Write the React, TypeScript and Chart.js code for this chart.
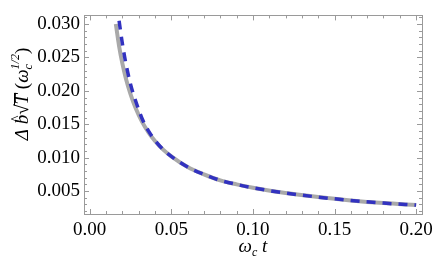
import React, { useEffect, useRef } from "react";
import { Chart, registerables } from "chart.js";

Chart.register(...registerables);

const tGray = [0.016, 0.018, 0.02, 0.022, 0.025, 0.028, 0.032, 0.036, 0.04, 0.045, 0.05, 0.06, 0.07, 0.08, 0.09, 0.1, 0.12, 0.14, 0.16, 0.18, 0.2];
const grayValues = [0.03, 0.0267, 0.0241, 0.022, 0.0195, 0.0175, 0.0154, 0.0138, 0.0125, 0.0112, 0.0102, 0.0086, 0.0075, 0.0066, 0.006, 0.0055, 0.0047, 0.0041, 0.0036, 0.0032, 0.0029];
const tBlue = [0.018, 0.02, 0.022, 0.025, 0.028, 0.032, 0.036, 0.04, 0.045, 0.05, 0.06, 0.07, 0.08, 0.09, 0.1, 0.12, 0.14, 0.16, 0.18, 0.2];
const blueValues = [0.0305, 0.0271, 0.0243, 0.021, 0.0186, 0.0159, 0.014, 0.0126, 0.0112, 0.0102, 0.0086, 0.0075, 0.0066, 0.006, 0.0055, 0.0047, 0.0041, 0.0036, 0.0032, 0.0029];
const xTicks = [0, 0.05, 0.1, 0.15, 0.2];
const yTicks = [0.005, 0.01, 0.015, 0.02, 0.025, 0.03];

const SERIF = "'Liberation Serif', 'Times New Roman', serif";
const FRAME = "#9a9a9a";

const framePlugin = {
  id: "frame",
  afterDraw(chart: any) {
    const { ctx, chartArea, scales } = chart;
    const { left, right, top, bottom } = chartArea;
    const x = scales.x;
    const y = scales.y;
    ctx.save();
    ctx.strokeStyle = FRAME;
    ctx.lineWidth = 1;
    ctx.strokeRect(Math.round(left) + 0.5, Math.round(top) + 0.5, Math.round(right - left), Math.round(bottom - top));
    ctx.beginPath();
    for (let i = 0; i <= 20; i++) {
      const v = i * 0.01;
      const px = Math.round(x.getPixelForValue(v)) + 0.5;
      const len = i % 5 === 0 ? 5 : 3;
      ctx.moveTo(px, bottom);
      ctx.lineTo(px, bottom - len);
      ctx.moveTo(px, top);
      ctx.lineTo(px, top + len);
    }
    for (let i = 2; i <= 31; i++) {
      const v = i * 0.001;
      const py = Math.round(y.getPixelForValue(v)) + 0.5;
      const len = i % 5 === 0 ? 5 : 3;
      ctx.moveTo(left, py);
      ctx.lineTo(left + len, py);
      ctx.moveTo(right, py);
      ctx.lineTo(right - len, py);
    }
    ctx.stroke();
    ctx.restore();
  },
};

const titlePlugin = {
  id: "titles",
  afterDraw(chart: any) {
    const { ctx, chartArea } = chart;
    ctx.save();
    ctx.fillStyle = "#000";
    ctx.textBaseline = "alphabetic";
    const big = "italic 19px " + SERIF;
    const reg = "19px " + SERIF;
    const small = "italic 12px " + SERIF;

    // x title: ω_c t
    const cx = (chartArea.left + chartArea.right) / 2;
    const by = 252;
    ctx.font = big;
    const wW = ctx.measureText("ω").width;
    ctx.font = small;
    const cW = ctx.measureText("c").width;
    ctx.font = big;
    const tW = ctx.measureText(" t").width;
    let sx = cx - (wW + cW + tW) / 2;
    ctx.fillText("ω", sx, by);
    sx += wW;
    ctx.font = small;
    ctx.fillText("c", sx, by + 4);
    sx += cW;
    ctx.font = big;
    ctx.fillText(" t", sx, by);

    // y title: Δ b̂ √T (ω_c^{1/2})
    ctx.translate(28, 94);
    ctx.rotate(-Math.PI / 2);
    const parts: [string, string, number][] = [
      ["Δ", big, 0],
      [" ", reg, 0],
      ["b", big, 0],
      ["√", reg, 0],
      ["T", big, 0],
      [" (", reg, 0],
      ["ω", big, 0],
      ["c", small, 4],
      ["1/2", small, -9],
      [")", reg, 0],
    ];
    let total = 0;
    const widths: number[] = [];
    for (const [s, f] of parts) {
      ctx.font = f;
      const w = ctx.measureText(s).width;
      widths.push(w);
      total += s === "c" ? 0 : w;
    }
    let px = -total / 2;
    parts.forEach(([s, f, dy], i) => {
      ctx.font = f;
      ctx.fillText(s, px, dy);
      if (s === "c") return;
      if (s === "b") {
        ctx.font = "14px " + SERIF;
        ctx.fillText("^", px + 2, -7);
      }
      if (s === "T") {
        ctx.fillRect(px - 1, -14, widths[i] + 2, 1);
      }
      px += widths[i];
    });
    ctx.restore();
  },
};

export default function App() {
  const ref = useRef<HTMLCanvasElement | null>(null);
  useEffect(() => {
    document.body.style.margin = "0";
    const canvas = ref.current!;
    const chart = new Chart(canvas, {
      type: "line",
      data: {
        datasets: [
          {
            label: "gray",
            data: tGray.map((t, i) => ({ x: t, y: grayValues[i] })),
            borderColor: "#a9a9a9",
            borderWidth: 4,
            pointRadius: 0,
            cubicInterpolationMode: "monotone",
            fill: false,
            order: 2,
          },
          {
            label: "blue",
            data: tBlue.map((t, i) => ({ x: t, y: blueValues[i] })),
            borderColor: "#3232c0",
            borderWidth: 3.5,
            borderDash: [9, 7],
            pointRadius: 0,
            cubicInterpolationMode: "monotone",
            fill: false,
            order: 1,
          },
        ],
      },
      options: {
        animation: false,
        responsive: false,
        maintainAspectRatio: false,
        layout: { padding: { top: 6, right: 25, left: 0, bottom: 0 } },
        plugins: { legend: { display: false }, tooltip: { enabled: false } },
        scales: {
          x: {
            type: "linear",
            min: -0.0035,
            max: 0.2036,
            grid: { display: false, drawTicks: false },
            border: { display: false },
            afterBuildTicks: (s: any) => {
              s.ticks = xTicks.map((v) => ({ value: v }));
            },
            afterFit: (s: any) => {
              s.height = 65;
            },
            ticks: {
              color: "#000",
              padding: 5,
              maxRotation: 0,
              font: { family: SERIF, size: 19 },
              callback: (v: any) => Number(v).toFixed(2),
            },
          },
          y: {
            type: "linear",
            min: 0.00157,
            max: 0.03129,
            grid: { display: false, drawTicks: false },
            border: { display: false },
            afterBuildTicks: (s: any) => {
              s.ticks = yTicks.map((v) => ({ value: v }));
            },
            afterFit: (s: any) => {
              s.width = 84;
            },
            ticks: {
              color: "#000",
              padding: 4,
              font: { family: SERIF, size: 19 },
              callback: (v: any) => Number(v).toFixed(3),
            },
          },
        },
      },
      plugins: [framePlugin, titlePlugin],
    } as any);
    return () => chart.destroy();
  }, []);
  return (
    <div style={{ width: 447, height: 279 }}>
      <canvas ref={ref} width={447} height={279} style={{ width: 447, height: 279, display: "block" }} />
    </div>
  );
}
